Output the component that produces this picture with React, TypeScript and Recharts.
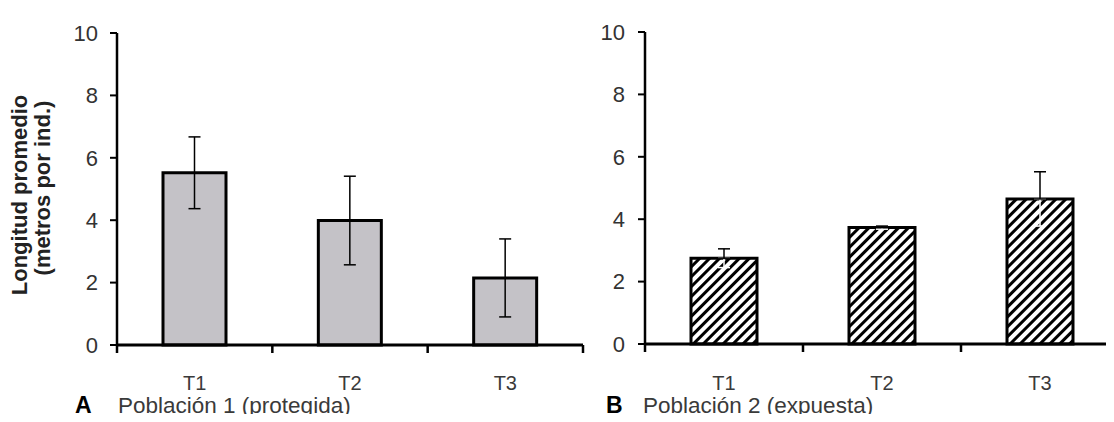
import React from 'react';
import { BarChart, Bar, XAxis, YAxis, ErrorBar } from 'recharts';

const categories = ['T1', 'T2', 'T3'];
const yTicks = [0, 2, 4, 6, 8, 10];
const boundaryTicks = [0, 1, 2, 3];
const pob1Values = [5.52, 3.99, 2.15];
const pob1Errors = [1.15, 1.42, 1.25];
const pob2Values = [2.75, 3.73, 4.65];
const pob2Errors = [0.3, 0.05, 0.87];
const yTitle = ['Longitud promedio', '(metros por ind.)'];
const captionA = ['A', 'Población 1 (protegida)'];
const captionB = ['B', 'Población 2 (expuesta)'];

const FONT = "'Liberation Sans', Arial, sans-serif";

const buildData = (values: number[], errors: number[]) =>
  categories.map((c, i) => ({
    cat: c,
    pos: i + 0.5,
    value: values[i],
    err: errors[i],
    errUp: [0, errors[i]],
    errDown: [errors[i], 0],
  }));

const dataA = buildData(pob1Values, pob1Errors);
const dataB = buildData(pob2Values, pob2Errors);

const allTicks = [...boundaryTicks, ...categories.map((_, i) => i + 0.5)].sort((a, b) => a - b);

const makeXTick = (labelOffset: number) => (props: any) => {
  const { x, y, payload } = props;
  const v = payload.value;
  if (Number.isInteger(v)) {
    return <line x1={x} x2={x} y1={y} y2={y + 8} stroke="#000" strokeWidth={2.5} />;
  }
  const idx = Math.floor(v);
  return (
    <text x={x} y={y + labelOffset} textAnchor="middle" fill="#3a3a3a" fontSize={20} fontFamily={FONT}>
      {categories[idx]}
    </text>
  );
};

const yTickStyle = { fill: '#333', fontSize: 22, fontFamily: FONT };

export default function App() {
  return (
    <div style={{ position: 'relative', width: 1114, height: 422, margin: -8, overflow: 'hidden', background: '#fff' }}>
      <svg width={0} height={0} style={{ position: 'absolute' }}>
        <defs>
          <pattern id="hatch" patternUnits="userSpaceOnUse" width={7} height={7} patternTransform="rotate(45)">
            <rect x={0} y={0} width={7} height={7} fill="#fff" />
            <rect x={0} y={0} width={3} height={7} fill="#000" />
          </pattern>
        </defs>
      </svg>
      <div style={{ position: 'absolute', left: 0, top: 0 }}>
        <BarChart width={600} height={422} data={dataA} margin={{ top: 33, right: 17, bottom: 0, left: 0 }}>
          <XAxis
            type="number"
            dataKey="pos"
            domain={[0, 3]}
            ticks={allTicks}
            interval={0}
            tickSize={0}
            tickMargin={0}
            tickLine={false}
            height={77}
            axisLine={{ stroke: '#000', strokeWidth: 3 }}
            tick={makeXTick(45)}
          />
          <YAxis
            domain={[0, 10]}
            ticks={yTicks}
            width={117}
            tickSize={7}
            tickMargin={12}
            interval={0}
            axisLine={{ stroke: '#000', strokeWidth: 2.5 }}
            tickLine={{ stroke: '#000', strokeWidth: 2 }}
            tick={yTickStyle}
          />
          <Bar dataKey="value" fill="#c4c2c7" stroke="#000" strokeWidth={3} barSize={63} isAnimationActive={false}>
            <ErrorBar dataKey="err" width={6} stroke="#000" strokeWidth={1.5} />
          </Bar>
        </BarChart>
      </div>
      <div style={{ position: 'absolute', left: 560, top: 0 }}>
        <BarChart width={560} height={422} data={dataB} margin={{ top: 32, right: 1, bottom: 0, left: 0 }}>
          <XAxis
            type="number"
            dataKey="pos"
            domain={[0, 3]}
            ticks={allTicks}
            interval={0}
            tickSize={0}
            tickMargin={0}
            tickLine={false}
            height={78}
            axisLine={{ stroke: '#000', strokeWidth: 3 }}
            tick={makeXTick(46)}
          />
          <YAxis
            domain={[0, 10]}
            ticks={yTicks}
            width={85}
            tickSize={7}
            tickMargin={13}
            interval={0}
            axisLine={{ stroke: '#000', strokeWidth: 2.5 }}
            tickLine={{ stroke: '#000', strokeWidth: 2 }}
            tick={yTickStyle}
          />
          <Bar dataKey="value" fill="url(#hatch)" stroke="#000" strokeWidth={3} barSize={66} isAnimationActive={false}>
            <ErrorBar dataKey="errDown" width={6} stroke="#fff" strokeWidth={1.5} />
            <ErrorBar dataKey="errUp" width={6} stroke="#000" strokeWidth={1.5} />
          </Bar>
        </BarChart>
      </div>
      <svg width={1114} height={422} style={{ position: 'absolute', left: 0, top: 0, pointerEvents: 'none' }}>
        <text transform="rotate(-90, 27, 195)" x={27} y={195} textAnchor="middle" fontSize={22} fontWeight="bold" fill="#222" fontFamily={FONT}>
          {yTitle[0]}
        </text>
        <text transform="rotate(-90, 50, 188)" x={50} y={188} textAnchor="middle" fontSize={22} fontWeight="bold" fill="#222" fontFamily={FONT}>
          {yTitle[1]}
        </text>
        <text x={75} y={413} fontSize={23} fontWeight="bold" fill="#000" fontFamily={FONT}>{captionA[0]}</text>
        <text x={118} y={413} fontSize={22.5} fill="#3a3a3a" fontFamily={FONT}>{captionA[1]}</text>
        <text x={606} y={413} fontSize={23} fontWeight="bold" fill="#000" fontFamily={FONT}>{captionB[0]}</text>
        <text x={643} y={413} fontSize={22.5} fill="#3a3a3a" fontFamily={FONT}>{captionB[1]}</text>
      </svg>
    </div>
  );
}
